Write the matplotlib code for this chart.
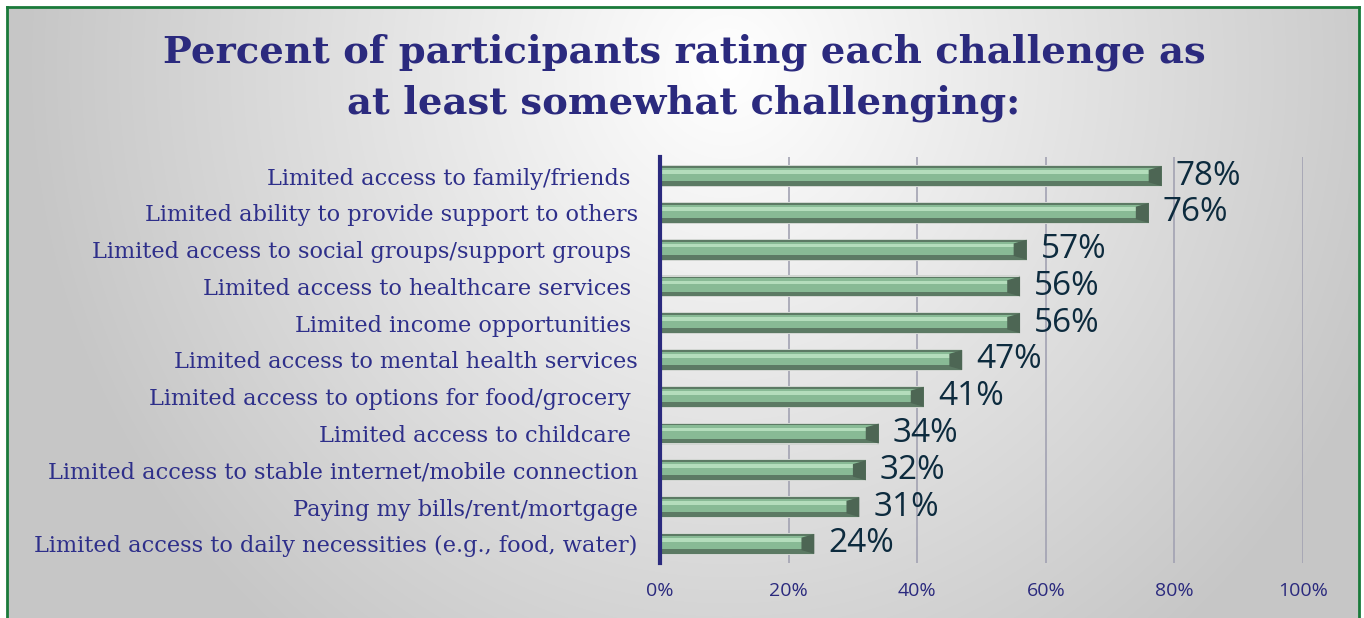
import matplotlib.pyplot as plt
import numpy as np

categories = [
    "Limited access to family/friends ",
    "Limited ability to provide support to others",
    "Limited access to social groups/support groups ",
    "Limited access to healthcare services ",
    "Limited income opportunities ",
    "Limited access to mental health services",
    "Limited access to options for food/grocery ",
    "Limited access to childcare ",
    "Limited access to stable internet/mobile connection",
    "Paying my bills/rent/mortgage",
    "Limited access to daily necessities (e.g., food, water)",
]
values = [78, 76, 57, 56, 56, 47, 41, 34, 32, 31, 24]
ticks = [0, 20, 40, 60, 80, 100]
tick_labels = ["0%", "20%", "40%", "60%", "80%", "100%"]

NAVY = "#2b2a7e"
fig = plt.figure(figsize=(13.64, 6.18), dpi=100)
fig.patch.set_facecolor("white")

# background panel with radial gradient
bg = fig.add_axes([7 / 1364, 0, 1352 / 1364, 611 / 618])
yy, xx = np.mgrid[0:611, 0:1352]
r = np.sqrt(((xx - 720) / 760) ** 2 + ((yy - 60) / 800) ** 2)
shade = np.clip(1 - 0.24 * r, 0.78, 1.0)
bg.imshow(np.dstack([shade, shade, shade]), aspect="auto", extent=[0, 1, 0, 1])
bg.set_xlim(0, 1)
bg.set_ylim(0, 1)
bg.set_xticks([])
bg.set_yticks([])
bg.spines["bottom"].set_visible(False)
for side in ["top", "left", "right"]:
    bg.spines[side].set_color("#1a7a3a")
    bg.spines[side].set_linewidth(2)

fig.text(684 / 1364, 1 - 52 / 618, "Percent of participants rating each challenge as",
         ha="center", va="center", fontsize=27.7, fontweight="bold",
         family="DejaVu Serif", color=NAVY)
fig.text(684 / 1364, 1 - 103 / 618, "at least somewhat challenging:",
         ha="center", va="center", fontsize=27.7, fontweight="bold",
         family="DejaVu Serif", color=NAVY)

ax = fig.add_axes([660 / 1364, 1 - 563 / 618, 643 / 1364, 406 / 618])
ax.patch.set_alpha(0)
y = np.arange(len(values))
v = np.array(values, dtype=float)

ax.barh(y, v, height=0.6, color="#d2d6d2", edgecolor="none", zorder=2)
ax.barh(y, v, height=0.54, color="#5c7a64", edgecolor="none", zorder=3)
ax.barh(y - 0.04, v - 1.0, left=0.3, height=0.36, color="#88ba95", edgecolor="none", zorder=4)
ax.barh(y - 0.11, v - 1.6, left=0.3, height=0.1, color="#b4ddbc", edgecolor="none", zorder=5)
# dark bevel at the bar ends
for yi, vi in zip(y, values):
    ax.fill([vi - 2.0, vi, vi, vi - 2.0], [yi - 0.17, yi - 0.27, yi + 0.27, yi + 0.17],
            color="#4d6654", lw=0, zorder=6)

for yi, vi in zip(y, values):
    ax.text(vi + 2.2, yi, f"{vi}%", va="center", ha="left", fontsize=24,
            family="Open Sans", color="#0d2b3e", zorder=7)

ax.set_xlim(0, 100)
ax.set_ylim(len(values) - 0.48, -0.52)
ax.set_xticks(ticks)
ax.set_xticklabels(tick_labels, family="Open Sans", fontsize=14, color=NAVY)
ax.set_yticks(y)
ax.set_yticklabels(categories, family="DejaVu Serif", fontsize=16.2, color="#2e2f8a")
ax.tick_params(axis="both", length=0)
ax.tick_params(axis="x", pad=14)
ax.tick_params(axis="y", pad=16)
ax.grid(axis="x", color="#a2a2b2", linewidth=1.2, zorder=1)
ax.set_axisbelow(True)
for side in ["top", "right", "bottom"]:
    ax.spines[side].set_visible(False)
ax.spines["left"].set_color(NAVY)
ax.spines["left"].set_linewidth(3)
ax.spines["left"].set_zorder(8)

fig.savefig("out.png", dpi=100, facecolor="white")
